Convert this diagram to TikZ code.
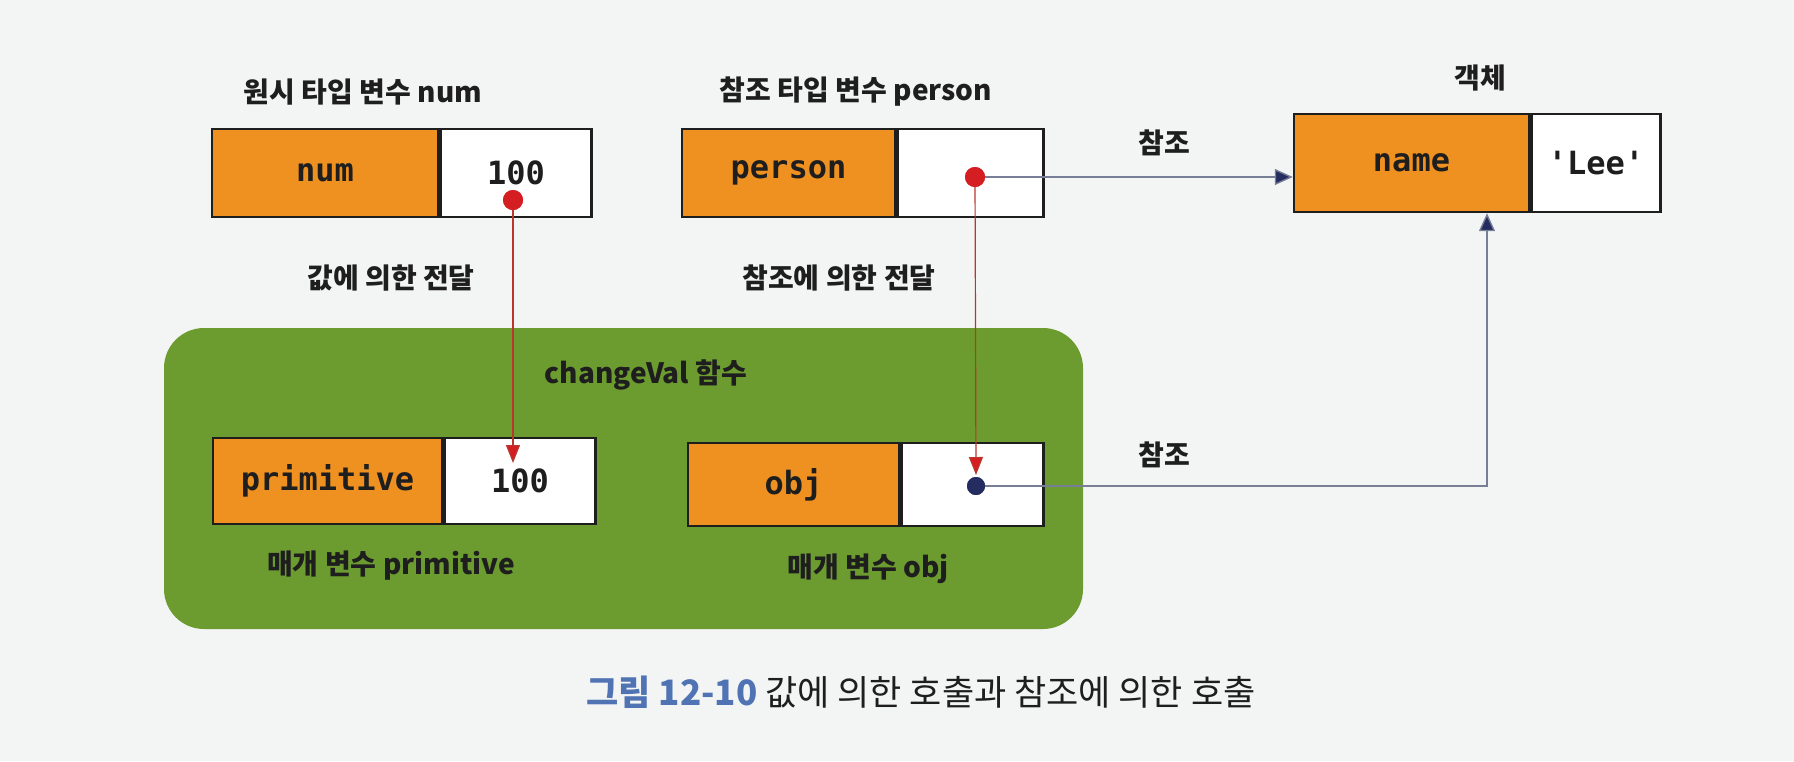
\documentclass[tikz,border=0pt]{standalone}
\usepackage{fontspec}
\setmainfont{Noto Sans CJK KR}
\setmonofont{DejaVu Sans Mono}
\newfontfamily\kr{Noto Sans CJK KR}
\usetikzlibrary{arrows.meta,calc}
\definecolor{paper}{RGB}{243,245,244}
\definecolor{boxorange}{RGB}{239,145,32}
\definecolor{fngreen}{RGB}{108,156,48}
\definecolor{refred}{RGB}{212,30,34}
\definecolor{linered}{RGB}{185,55,45}
\definecolor{navy}{RGB}{36,44,96}
\definecolor{navyline}{RGB}{120,126,150}
\definecolor{capblue}{RGB}{80,115,180}
\definecolor{ink}{RGB}{30,30,30}
\begin{document}
\begin{tikzpicture}[x=0.5pt,y=-0.5pt,
  cellbase/.style={draw=ink, line width=1.2pt, inner sep=0pt, text=ink,
    font=\ttfamily\bfseries\fontsize{16}{18}\selectfont},
  keycell/.style={cellbase, fill=boxorange},
  valcell/.style={cellbase, fill=white, anchor=west},
  lbl/.style={font=\kr\bfseries\fontsize{14}{16}\selectfont, text=ink, inner sep=0pt},
  reddot/.style={circle, fill=refred, inner sep=0pt, minimum size=10pt},
  navydot/.style={circle, fill=navy, inner sep=0pt, minimum size=9pt},
  redarrow/.style={draw=linered, line width=0.6pt, -{Triangle[width=7pt,length=9pt,fill=refred]}},
  navyarrow/.style={draw=navyline, line width=0.7pt, -{Triangle[width=8pt,length=9pt,fill=navy]}},
  fnbox/.style={fill=fngreen, rounded corners=20pt}
]
\useasboundingbox[fill=paper] (0,0) rectangle (1794,761);

% function area
\path[fnbox] (164,328) rectangle (1083,629);

% num
\node[lbl] (lnum) at (363,92) {원시 타입 변수 num};
\node[keycell, minimum width=113pt, minimum height=44pt] (numk) at (325,173) {num};
\node[valcell, minimum width=75.5pt, minimum height=44pt] (numv) at (numk.east) {100};
\node[reddot] (numdot) at (513,200) {};

% person
\node[lbl] (lperson) at (856,92) {참조 타입 변수 person};
\node[keycell, minimum width=106.5pt, minimum height=44pt] (personk) at (788.5,173) {person};
\node[valcell, minimum width=73pt, minimum height=44pt] (personv) at (personk.east) {};
\node[reddot] (pdot) at (975,177) {};

% object
\node[lbl] (lobj) at (1480,78) {객체};
\node[keycell, minimum width=117.5pt, minimum height=49pt] (namek) at (1411.5,163) {name};
\node[valcell, minimum width=64.5pt, minimum height=49pt] (namev) at (namek.east) {'Lee'};

% labels
\node[lbl] (lref1) at (1164,143) {참조};
\node[lbl] (lbyval) at (391,278) {값에 의한 전달};
\node[lbl] (lbyref) at (839,278) {참조에 의한 전달};
\node[lbl] (lfn) at (646,375) {changeVal 함수};
\node[lbl] (lref2) at (1164,455) {참조};

% primitive
\node[keycell, minimum width=114.5pt, minimum height=43pt] (primk) at (327.5,481) {primitive};
\node[valcell, minimum width=75.5pt, minimum height=43pt] (primv) at (primk.east) {100};
\node[lbl] (lprim) at (391,566) {매개 변수 primitive};

% obj
\node[keycell, minimum width=105.5pt, minimum height=41.5pt] (objk) at (793.5,484.5) {obj};
\node[valcell, minimum width=71pt, minimum height=41.5pt] (objv) at (objk.east) {};
\node[navydot] (odot) at (976,486) {};
\node[lbl] (lobjp) at (868,569) {매개 변수 obj};

% connectors
\coordinate (ptip) at (513,463);
\coordinate (otip) at (976,475);
\coordinate (turn) at (1487,486);
\draw[redarrow] (numdot.center) -- (ptip);
\draw[redarrow] (pdot.center) -- (otip);
\draw[navyarrow] (pdot.center) -- (pdot -| namek.west);
\draw[navyarrow] (odot.center) -- (turn) -- (turn |- namek.south);
\node[reddot] at (numdot) {};
\node[reddot] at (pdot) {};
\node[navydot] at (odot) {};

% caption
\node[inner sep=0pt, font=\kr\fontsize{17.5}{19}\selectfont, text=ink] (cap) at (921,692)
  {{\color{capblue}\bfseries 그림 12-10} 값에 의한 호출과 참조에 의한 호출};
\end{tikzpicture}
\end{document}
